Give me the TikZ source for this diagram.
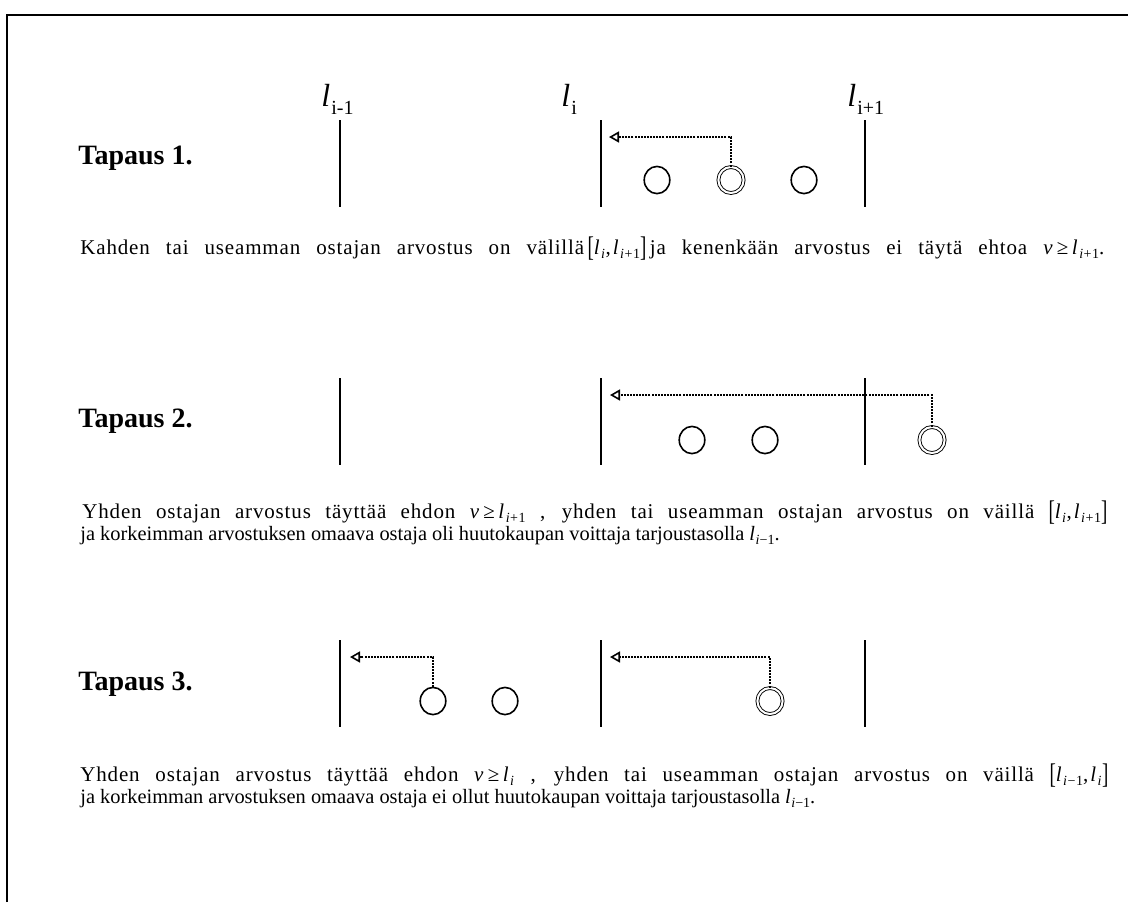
\documentclass[tikz,border=0pt]{standalone}
\usepackage{fontspec}
\usepackage{graphicx}
\setmainfont{Liberation Serif}
\usetikzlibrary{arrows.meta,shapes.geometric}
\hbadness=10000
\newcommand{\vv}{\textit{v}}
\newcommand{\ellsub}[1]{\textit{l}\kern0.3pt\raisebox{-0.5ex}{\fontsize{7}{7}\selectfont #1}}
\newcommand{\ipo}{\textit{i}+1}
\newcommand{\imo}{\textit{i}−1}
\newcommand{\lbrk}{\raisebox{-0.3ex}{\scalebox{0.9}[1.35]{[}}}
\newcommand{\rbrk}{\raisebox{-0.3ex}{\scalebox{0.9}[1.35]{]}}}
\newcommand{\lablsub}[1]{\textit{l}\kern0.5pt\raisebox{-0.6ex}{\fontsize{10}{10}\selectfont #1}}
\newcommand{\wide}{\fontsize{10.5}{12}\selectfont\addfontfeature{LetterSpace=4.0}}
\begin{document}
\begin{tikzpicture}[x=0.5pt,y=-0.5pt,
  frame/.style={line width=1.2pt},
  level/.style={line width=1pt},
  buyer/.style={draw, ellipse, line width=0.8pt, minimum width=12.8pt, minimum height=13.6pt, inner sep=0pt},
  winner/.style={draw, ellipse, line width=0.45pt, double, double distance=1pt, minimum width=12.6pt, minimum height=13pt, inner sep=0pt},
  bid/.style={line width=1.2pt, dash pattern=on 1pt off 0.55pt, -{Triangle[open, length=5pt, width=5.5pt, line width=0.8pt]}},
  lab/.style={anchor=base west, inner sep=0pt, font=\fontsize{16}{16}\selectfont},
  casetitle/.style={anchor=base west, inner sep=0pt, font=\fontsize{14}{16}\selectfont\bfseries},
  body/.style={anchor=base west, inner sep=0pt, font=\fontsize{10.2}{12}\selectfont}]
\useasboundingbox (0,0) rectangle (1128,902);
\draw[frame] (7,902) -- (7,15) -- (1128,15);

% labels
\node[lab] (lm) at (321,106) {\lablsub{i-1}};
\node[lab] (li) at (561,106) {\lablsub{i}};
\node[lab] (lp) at (847,106) {\lablsub{i+1}};

% ---- Case 1
\node[casetitle] (t1) at (78,164) {Tapaus 1.};
\coordinate (a1t) at (340,120); \coordinate (a1b) at (340,207);
\coordinate (b1t) at (601,120); \coordinate (b1b) at (601,207);
\coordinate (c1t) at (865,120); \coordinate (c1b) at (865,207);
\draw[level] (a1t) -- (a1b);
\draw[level] (b1t) -- (b1b);
\draw[level] (c1t) -- (c1b);
\node[buyer] (p11) at (657,180) {};
\node[winner] (p12) at (731,180) {};
\node[buyer] (p13) at (804,180) {};
\coordinate (tip1) at (609,137);
\draw[bid] (p12.north) |- (tip1);
\node[body] (x1) at (80,254) {\hbox to 512pt{\wide Kahden tai useamman ostajan arvostus on välillä\,\lbrk\ellsub{\textit{i}},\kern1pt\ellsub{\ipo}\rbrk\,ja kenenkään arvostus ei täytä ehtoa \vv\,≥\,\ellsub{\ipo}.}};

% ---- Case 2
\node[casetitle] (t2) at (78,427) {Tapaus 2.};
\coordinate (a2t) at (340,378); \coordinate (a2b) at (340,465);
\coordinate (b2t) at (601,378); \coordinate (b2b) at (601,465);
\coordinate (c2t) at (865,378); \coordinate (c2b) at (865,465);
\draw[level] (a2t) -- (a2b);
\draw[level] (b2t) -- (b2b);
\draw[level] (c2t) -- (c2b);
\node[buyer] (p21) at (692,440) {};
\node[buyer] (p22) at (765,440) {};
\node[winner] (p23) at (932,440) {};
\coordinate (tip2) at (610,395);
\draw[bid] (p23.north) |- (tip2);
\node[body] (x2a) at (82,518) {\hbox to 512.5pt{\wide Yhden ostajan arvostus täyttää ehdon \vv\,≥\,\ellsub{\ipo} , yhden tai useamman ostajan arvostus on väillä \lbrk\ellsub{\textit{i}},\kern1pt\ellsub{\ipo}\rbrk}};
\node[body] (x2b) at (80,540) {ja korkeimman arvostuksen omaava ostaja oli huutokaupan voittaja tarjoustasolla \ellsub{\imo}.};

% ---- Case 3
\node[casetitle] (t3) at (78,690) {Tapaus 3.};
\coordinate (a3t) at (340,640); \coordinate (a3b) at (340,727);
\coordinate (b3t) at (601,640); \coordinate (b3b) at (601,727);
\coordinate (c3t) at (865,640); \coordinate (c3b) at (865,727);
\draw[level] (a3t) -- (a3b);
\draw[level] (b3t) -- (b3b);
\draw[level] (c3t) -- (c3b);
\node[buyer] (p31) at (433,701) {};
\node[buyer] (p32) at (505,701) {};
\node[winner] (p33) at (770,701) {};
\coordinate (tip31) at (350,657);
\coordinate (tip32) at (610,657);
\draw[bid] (p31.north) |- (tip31);
\draw[bid] (p33.north) |- (tip32);
\node[body] (x3a) at (80,781) {\hbox to 514pt{\wide Yhden ostajan arvostus täyttää ehdon \vv\,≥\,\ellsub{\textit{i}}\kern8pt , yhden tai useamman ostajan arvostus on väillä \lbrk\ellsub{\imo},\kern1pt\ellsub{\textit{i}}\rbrk}};
\node[body] (x3b) at (80,803) {ja korkeimman arvostuksen omaava ostaja ei ollut huutokaupan voittaja tarjoustasolla \ellsub{\imo}.};
\end{tikzpicture}
\end{document}
